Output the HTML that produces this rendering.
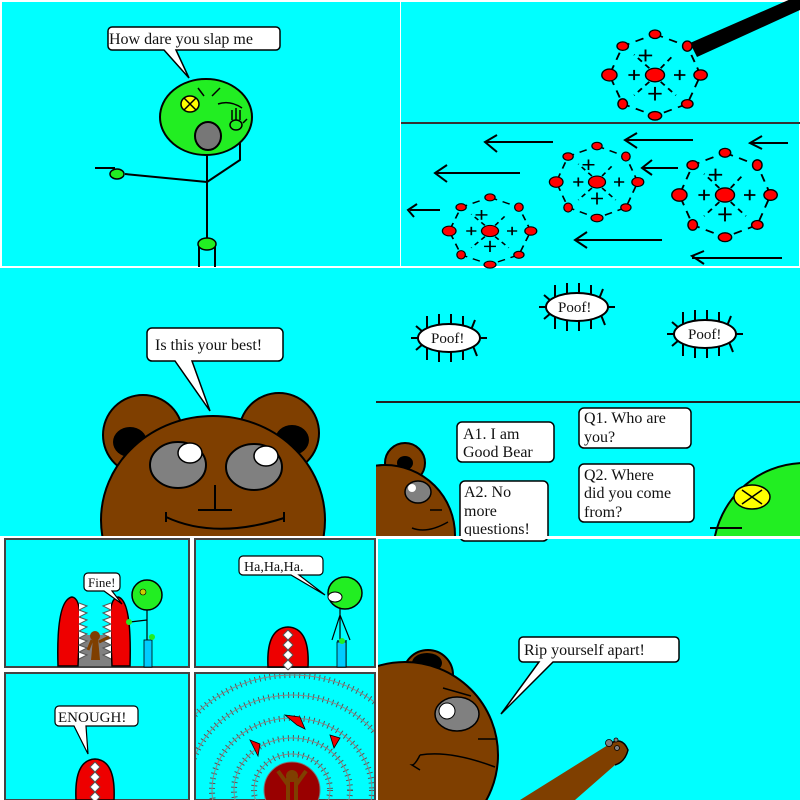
<!DOCTYPE html>
<html><head><meta charset="utf-8"><style>
html,body{margin:0;padding:0;background:#fff;overflow:hidden;width:800px;height:800px}
svg{display:block}
text{font-family:"Liberation Serif",serif;fill:#111}
</style></head><body>
<svg width="800" height="800" viewBox="0 0 800 800" xmlns="http://www.w3.org/2000/svg">
<defs>
<clipPath id="cp3"><rect x="0" y="268" width="376" height="268"/></clipPath>
<clipPath id="cp4b"><rect x="376" y="403" width="424" height="133"/></clipPath>
<clipPath id="cp4"><rect x="196" y="674" width="178" height="126"/></clipPath>
<clipPath id="cp5"><rect x="378" y="539" width="422" height="261"/></clipPath>
<g id="atom">
  <polygon points="0,-48 34,-34 48,0 34,34 0,48 -34,34 -48,0 -34,-34" fill="none" stroke="#000" stroke-width="2" stroke-dasharray="9 7"/>
  <g stroke="#000" stroke-width="2">
    <line x1="-10" y1="-30" x2="-10" y2="-16"/><line x1="-17" y1="-23" x2="-3" y2="-23"/>
    <line x1="20" y1="0" x2="32" y2="0"/><line x1="26" y1="-6" x2="26" y2="6"/>
    <line x1="-28" y1="0" x2="-16" y2="0"/><line x1="-22" y1="-6" x2="-22" y2="6"/>
    <line x1="0" y1="14" x2="0" y2="30"/><line x1="-7" y1="22" x2="7" y2="22"/>
    <line x1="6" y1="-8" x2="20" y2="-24" stroke-dasharray="6 5"/>
    <line x1="-6" y1="8" x2="-22" y2="24" stroke-dasharray="6 5"/>
    <line x1="6" y1="8" x2="22" y2="24" stroke-dasharray="6 5"/>
    <line x1="-6" y1="-8" x2="-22" y2="-24" stroke-dasharray="6 5"/>
  </g>
  <g fill="#f00" stroke="#000" stroke-width="1.5">
    <ellipse cx="0" cy="0" rx="10" ry="8"/>
    <ellipse cx="0" cy="-48" rx="6" ry="5"/><ellipse cx="34" cy="-34" rx="5" ry="6"/>
    <ellipse cx="48" cy="0" rx="7" ry="6"/><ellipse cx="34" cy="34" rx="6" ry="5"/>
    <ellipse cx="0" cy="48" rx="7" ry="5"/><ellipse cx="-34" cy="34" rx="5" ry="6"/>
    <ellipse cx="-48" cy="0" rx="8" ry="7"/><ellipse cx="-34" cy="-34" rx="6" ry="5"/>
  </g>
</g>
<g id="poof">
  <g stroke="#000" stroke-width="2">
    <line x1="-22" y1="-22" x2="-22" y2="-10"/><line x1="-10" y1="-24" x2="-10" y2="-12"/><line x1="2" y1="-24" x2="2" y2="-12"/><line x1="14" y1="-22" x2="14" y2="-10"/><line x1="26" y1="-18" x2="22" y2="-8"/>
    <line x1="-22" y1="10" x2="-22" y2="22"/><line x1="-10" y1="12" x2="-10" y2="24"/><line x1="2" y1="12" x2="2" y2="24"/><line x1="14" y1="10" x2="14" y2="22"/><line x1="24" y1="8" x2="28" y2="18"/>
    <line x1="-38" y1="0" x2="-26" y2="0"/><line x1="26" y1="0" x2="38" y2="0"/><line x1="-33" y1="-12" x2="-26" y2="-6"/><line x1="-33" y1="12" x2="-26" y2="6"/>
  </g>
  <ellipse cx="0" cy="0" rx="31" ry="14" fill="#fff" stroke="#000" stroke-width="2"/>
</g>
</defs>

<rect x="0" y="0" width="800" height="800" fill="#fff"/>
<rect x="2" y="2" width="398" height="264" fill="#0ff"/>
<rect x="401" y="2" width="398" height="264" fill="#0ff"/>
<rect x="0" y="268" width="800" height="268" fill="#0ff"/>
<rect x="378" y="538" width="422" height="262" fill="#0ff"/>

<!-- Panel 1 -->
<path d="M112,27 h164 a4,4 0 0 1 4,4 v15 a4,4 0 0 1 -4,4 h-100 l13,28 -25,-28 h-52 a4,4 0 0 1 -4,-4 v-15 a4,4 0 0 1 4,-4z" fill="#fff" stroke="#000" stroke-width="1.5"/>
<text x="109" y="44" font-size="16">How dare you slap me</text>
<g stroke="#000" stroke-width="2" fill="none">
  <line x1="207" y1="150" x2="207" y2="240"/>
  <line x1="207" y1="182" x2="125" y2="174"/>
  <path d="M207,182 L240,160 L240,128"/>
  <line x1="95" y1="168" x2="115" y2="168"/>
  <line x1="199" y1="245" x2="199" y2="267"/><line x1="215" y1="245" x2="215" y2="267"/>
</g>
<ellipse cx="206" cy="117" rx="46" ry="38" fill="#2e2" stroke="#000" stroke-width="2"/>
<ellipse cx="190" cy="104" rx="9" ry="8" fill="#ff0" stroke="#000" stroke-width="1.5"/>
<path d="M184,98 l12,12 M196,98 l-12,12" stroke="#000" stroke-width="1.5"/>
<path d="M198,88 l6,8 M212,96 l8,-8 M218,104 q12,-4 24,4" stroke="#000" stroke-width="1.5" fill="none"/>
<ellipse cx="208" cy="136" rx="13" ry="14" fill="#777" stroke="#000" stroke-width="2"/>
<ellipse cx="117" cy="174" rx="7" ry="5" fill="#2e2" stroke="#000" stroke-width="1.5"/>
<ellipse cx="236" cy="125" rx="6" ry="5" fill="#2e2" stroke="#000" stroke-width="1.5"/>
<path d="M232,120 v-10 M236,120 v-12 M240,120 v-10 M243,123 l4,-4" stroke="#000" stroke-width="1.5"/>
<ellipse cx="207" cy="244" rx="9" ry="6" fill="#2e2" stroke="#000" stroke-width="1.5"/>

<!-- Panel 2 -->
<polygon points="690,43 800,-5 800,10 697,57" fill="#000"/>
<use href="#atom" transform="translate(655,75) scale(0.95,0.85)"/>
<line x1="401" y1="123" x2="800" y2="123" stroke="#333" stroke-width="2"/>
<use href="#atom" transform="translate(597,182) scale(0.85,0.75)"/>
<use href="#atom" transform="translate(725,195) scale(0.95,0.88)"/>
<use href="#atom" transform="translate(490,231) scale(0.85,0.7)"/>
<g stroke="#000" stroke-width="2" fill="none">
  <path d="M553,142 H485 M497,135 L485,142 497,152"/>
  <path d="M520,173 H435 M447,165 L435,173 447,182"/>
  <path d="M440,210 H410 M417,204 L408,210 414,217"/>
  <path d="M693,140 H625 M637,133 L625,140 637,148"/>
  <path d="M678,168 H642 M652,160 L642,168 652,175"/>
  <path d="M788,143 H750 M762,136 L750,143 762,149"/>
  <path d="M662,240 H575 M587,232 L575,240 587,248"/>
  <path d="M782,258 H692 M704,251 L692,256 704,264"/>
</g>

<!-- Panel 3 -->
<path d="M152,328 h126 a5,5 0 0 1 5,5 v23 a5,5 0 0 1 -5,5 h-86 l18,50 -35,-50 h-23 a5,5 0 0 1 -5,-5 v-23 a5,5 0 0 1 5,-5z" fill="#fff" stroke="#000" stroke-width="1.5"/>
<text x="155" y="350" font-size="16">Is this your best!</text>
<g clip-path="url(#cp3)">
<circle cx="143" cy="435" r="40" fill="#7f3f00" stroke="#000" stroke-width="2"/>
<circle cx="279" cy="433" r="40" fill="#7f3f00" stroke="#000" stroke-width="2"/>
<ellipse cx="130" cy="442" rx="17" ry="15" fill="#000"/>
<ellipse cx="292" cy="440" rx="17" ry="15" fill="#000"/>
<ellipse cx="213" cy="520" rx="112" ry="104" fill="#7f3f00" stroke="#000" stroke-width="2"/>
<ellipse cx="178" cy="465" rx="28" ry="23" fill="#808080" stroke="#000" stroke-width="2"/>
<ellipse cx="254" cy="467" rx="28" ry="23" fill="#808080" stroke="#000" stroke-width="2"/>
<ellipse cx="190" cy="453" rx="12" ry="10" fill="#fff" stroke="#000" stroke-width="1.5"/>
<ellipse cx="266" cy="456" rx="12" ry="10" fill="#fff" stroke="#000" stroke-width="1.5"/>
<path d="M215,485 V510 M198,510 H232 M166,512 V522 M166,517 Q215,540 284,518 M284,512 V522" stroke="#000" stroke-width="2" fill="none"/>
</g>

<!-- Panel 4 -->
<use href="#poof" transform="translate(449,338)"/>
<use href="#poof" transform="translate(577,307)"/>
<use href="#poof" transform="translate(705,334)"/>
<text x="431" y="343" font-size="15">Poof!</text>
<text x="558" y="312" font-size="15">Poof!</text>
<text x="688" y="339" font-size="15">Poof!</text>
<line x1="376" y1="402" x2="800" y2="402" stroke="#222" stroke-width="2"/>
<g clip-path="url(#cp4b)">
<circle cx="405" cy="463" r="20" fill="#7f3f00" stroke="#000" stroke-width="2"/>
<ellipse cx="405" cy="463" rx="8" ry="7" fill="#000"/>
<ellipse cx="385" cy="535" rx="70" ry="70" fill="#7f3f00" stroke="#000" stroke-width="2"/>
<ellipse cx="418" cy="492" rx="13" ry="11" fill="#808080" stroke="#000" stroke-width="1.5"/>
<circle cx="412" cy="488" r="4" fill="#fff"/>
<path d="M430,510 h12 M412,528 q15,6 36,-6" stroke="#000" stroke-width="1.5" fill="none"/>
<circle cx="805" cy="555" r="92" fill="#2e2" stroke="#000" stroke-width="2"/>
<ellipse cx="752" cy="497" rx="18" ry="12" fill="#ff0" stroke="#000" stroke-width="1.5"/>
<path d="M742,490 l20,14 M762,490 l-20,14" stroke="#000" stroke-width="1.5"/>
<line x1="710" y1="528" x2="742" y2="528" stroke="#000" stroke-width="2"/>
</g>
<g fill="#fff" stroke="#000" stroke-width="1.5">
  <rect x="457" y="422" width="97" height="40" rx="5"/>
  <rect x="460" y="481" width="88" height="60" rx="5"/>
  <rect x="579" y="408" width="112" height="40" rx="5"/>
  <rect x="579" y="464" width="115" height="58" rx="5"/>
</g>
<g font-size="16">
  <text x="463" y="439">A1. I am</text><text x="463" y="457">Good Bear</text>
  <text x="464" y="497">A2. No</text><text x="464" y="516">more</text><text x="464" y="534">questions!</text>
  <text x="584" y="423">Q1. Who are</text><text x="584" y="442">you?</text>
  <text x="584" y="480">Q2. Where</text><text x="584" y="498">did you come</text><text x="584" y="517">from?</text>
</g>
<rect x="378" y="536" width="422" height="3" fill="#fff"/>

<!-- Bottom-left small panels -->
<rect x="0" y="536" width="378" height="264" fill="#fff"/>
<g stroke="#444" stroke-width="2" fill="#0ff">
  <rect x="5" y="539" width="184" height="128"/>
  <rect x="195" y="539" width="180" height="128"/>
  <rect x="5" y="673" width="184" height="127"/>
  <rect x="195" y="673" width="180" height="127"/>
</g>
<!-- small panel 1 -->
<path d="M74,635 h54 v31 h-54z" fill="#808080"/>
<path d="M76,666 L58,666 Q56,600 72,597 Q80,598 80,620 L78,666Z" fill="#e00" stroke="#000" stroke-width="1.5"/>
<path d="M112,666 L130,666 Q132,600 118,597 Q110,598 110,620 L112,666Z" fill="#e00" stroke="#000" stroke-width="1.5"/>
<path d="M79,603 l8,3 -8,4 8,3 -8,4 8,3 -8,4 8,3 -8,4 8,3 -8,4 8,3 -8,4 8,3 -8,4 8,3 -8,4" fill="#fff" stroke="#555" stroke-width="1"/>
<path d="M111,603 l-8,3 8,4 -8,3 8,4 -8,3 8,4 -8,3 8,4 -8,3 8,4 -8,3 8,4 -8,3 8,4 -8,3 8,4" fill="#fff" stroke="#555" stroke-width="1"/>
<path d="M91,660 l2,-22 h5 l2,22z" fill="#7f3f00"/><circle cx="95" cy="636" r="5" fill="#7f3f00"/>
<path d="M88,650 l4,-10 M99,642 l10,-5" stroke="#7f3f00" stroke-width="3"/>
<path d="M88,573 h28 a4,4 0 0 1 4,4 v10 a4,4 0 0 1 -4,4 h-4 l10,13 -18,-13 h-16 a4,4 0 0 1 -4,-4 v-10 a4,4 0 0 1 4,-4z" fill="#fff" stroke="#000" stroke-width="1.2"/>
<text x="88" y="587" font-size="13">Fine!</text>
<path d="M147,610 V640 M147,620 L130,622 M145,640 V667 M150,640 V667" stroke="#000" stroke-width="1.2" fill="none"/>
<rect x="144" y="640" width="8" height="27" fill="#0cf" stroke="#000" stroke-width="0.8"/>
<circle cx="147" cy="595" r="15" fill="#2e2" stroke="#000" stroke-width="1.5"/>
<circle cx="143" cy="592" r="3" fill="#cc0" stroke="#000" stroke-width="0.6"/>
<circle cx="129" cy="622" r="3" fill="#2e2"/><circle cx="152" cy="637" r="3" fill="#2e2"/>
<!-- small panel 2 -->
<path d="M268,667 Q266,628 288,627 Q310,628 308,667Z" fill="#e00" stroke="#000" stroke-width="1.5"/>
<path d="M288,630 l-5,5 5,5 -5,5 5,5 -5,5 5,5 -5,5 5,5 M288,630 l5,5 -5,5 5,5 -5,5 5,5 -5,5 5,5 -5,5" fill="#fff" stroke="#555" stroke-width="1"/>
<path d="M243,556 h76 a4,4 0 0 1 4,4 v11 a4,4 0 0 1 -4,4 h-20 l26,20 -34,-20 h-48 a4,4 0 0 1 -4,-4 v-11 a4,4 0 0 1 4,-4z" fill="#fff" stroke="#000" stroke-width="1.2"/>
<text x="244" y="571" font-size="14">Ha,Ha,Ha.</text>
<path d="M340,608 V640 M340,615 L332,640 M340,615 L350,640 M338,640 V667 M346,640 V667" stroke="#000" stroke-width="1.2" fill="none"/>
<rect x="337" y="642" width="9" height="25" fill="#0cf" stroke="#000" stroke-width="0.8"/>
<ellipse cx="345" cy="593" rx="17" ry="16" fill="#2e2" stroke="#000" stroke-width="1.5"/>
<ellipse cx="335" cy="597" rx="7" ry="5" fill="#fff" stroke="#000" stroke-width="1"/>
<circle cx="342" cy="641" r="3" fill="#2e2"/>
<!-- small panel 3 -->
<path d="M59,706 h75 a4,4 0 0 1 4,4 v12 a4,4 0 0 1 -4,4 h-48 l2,28 -14,-28 h-15 a4,4 0 0 1 -4,-4 v-12 a4,4 0 0 1 4,-4z" fill="#fff" stroke="#000" stroke-width="1.2"/>
<text x="58" y="722" font-size="15">ENOUGH!</text>
<path d="M76,800 Q74,760 95,759 Q116,760 114,800Z" fill="#e00" stroke="#000" stroke-width="1.5"/>
<path d="M95,762 l-5,5 5,5 -5,5 5,5 -5,5 5,5 -5,5 5,5 M95,762 l5,5 -5,5 5,5 -5,5 5,5 -5,5 5,5 -5,5" fill="#fff" stroke="#555" stroke-width="1"/>
<!-- small panel 4 -->
<g clip-path="url(#cp4)" fill="none">
  <circle cx="292" cy="790" r="28" fill="#900" stroke="#777" stroke-width="1"/>
  <g stroke="#555" stroke-width="6" stroke-dasharray="1 4">
    <ellipse cx="292" cy="790" rx="38" ry="36"/>
    <ellipse cx="292" cy="790" rx="58" ry="52"/>
    <ellipse cx="292" cy="790" rx="80" ry="72"/>
    <ellipse cx="292" cy="790" rx="104" ry="95"/>
    <ellipse cx="292" cy="790" rx="128" ry="115"/>
  </g>
  <g stroke="#888" stroke-width="1">
    <ellipse cx="292" cy="790" rx="38" ry="36"/>
    <ellipse cx="292" cy="790" rx="58" ry="52"/>
    <ellipse cx="292" cy="790" rx="80" ry="72"/>
    <ellipse cx="292" cy="790" rx="104" ry="95"/>
    <ellipse cx="292" cy="790" rx="128" ry="115"/>
  </g>
  <path d="M288,800 v-20 h8 v20 M288,785 l-10,-14 M296,785 l10,-14" stroke="#7f3f00" stroke-width="4"/>
  <circle cx="292" cy="776" r="6" fill="#7f3f00"/>
  <path d="M285,715 l15,2 5,12 -8,-4z M250,740 l10,4 -2,12z M330,735 l10,3 -6,10z" fill="#e00" stroke="#000" stroke-width="0.8"/>
</g>

<!-- Bottom-right -->
<g clip-path="url(#cp5)">
  <circle cx="428" cy="675" r="25" fill="#7f3f00" stroke="#000" stroke-width="2"/>
  <ellipse cx="427" cy="663" rx="15" ry="10" fill="#000"/>
  <circle cx="405" cy="755" r="93" fill="#7f3f00" stroke="#000" stroke-width="2"/>
  <ellipse cx="457" cy="714" rx="22" ry="17" fill="#808080" stroke="#000" stroke-width="1.5"/>
  <circle cx="447" cy="711" r="8" fill="#fff" stroke="#000" stroke-width="1"/>
  <path d="M443,688 l28,8 M478,739 h18 M420,755 q30,-5 75,12 M420,755 q-5,10 -8,10 l8,5" stroke="#000" stroke-width="1.5" fill="none"/>
  <path d="M520,800 L608,745 Q622,735 628,750 Q625,762 615,765 L575,800Z" fill="#7f3f00"/>
  <path d="M608,745 Q622,735 628,750 Q625,762 615,765" fill="none" stroke="#000" stroke-width="1.5"/>
  <circle cx="609" cy="743" r="3.5" fill="#808080" stroke="#000" stroke-width="0.8"/>
  <circle cx="616" cy="740" r="2" fill="#808080" stroke="#000" stroke-width="0.8"/>
  <circle cx="617" cy="748" r="2.5" fill="#808080" stroke="#000" stroke-width="0.8"/>
</g>
<path d="M523,637 h152 a4,4 0 0 1 4,4 v17 a4,4 0 0 1 -4,4 h-122 l-52,52 38,-52 h-16 a4,4 0 0 1 -4,-4 v-17 a4,4 0 0 1 4,-4z" fill="#fff" stroke="#000" stroke-width="1.5"/>
<text x="524" y="655" font-size="16">Rip yourself apart!</text>
</svg>
</body></html>
